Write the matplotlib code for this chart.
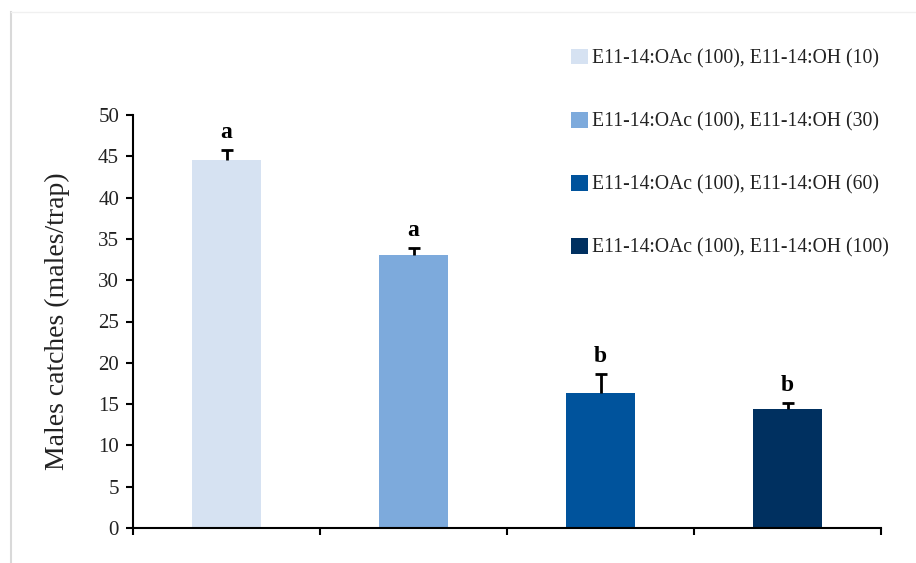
import numpy as np
import matplotlib.pyplot as plt
from matplotlib.patches import Patch
from matplotlib.lines import Line2D

labels = ['E11-14:OAc (100), E11-14:OH (10)',
          'E11-14:OAc (100), E11-14:OH (30)',
          'E11-14:OAc (100), E11-14:OH (60)',
          'E11-14:OAc (100), E11-14:OH (100)']
means = [44.6, 33.1, 16.3, 14.4]
errors = [1.2, 0.8, 2.3, 0.7]
letters = ['a', 'a', 'b', 'b']
colors = ['#D6E2F2', '#7DAADC', '#00539C', '#003060']

plt.rcParams['font.family'] = ['Liberation Serif', 'DejaVu Serif']

fig = plt.figure(figsize=(9.16, 5.63), dpi=100)
ax = fig.add_axes([133/916, 35/563, 748/916, 413/563])

# faint chart-area border on the left and top
fig.add_artist(Line2D([11/916, 11/916], [0, 1-12/563], color='#d9d9d9', lw=1.5))
fig.add_artist(Line2D([11/916, 1], [1-12/563, 1-12/563], color='#f0f0f0', lw=1))

x = np.arange(len(means)) + 0.5
ax.bar(x, means, width=0.365, color=colors, zorder=2)
eb = ax.errorbar(x, means, yerr=[np.zeros(len(errors)), errors], fmt='none',
                 ecolor='black', elinewidth=2, capsize=4, capthick=2, zorder=3)
# only the upper cap
eb[1][0].set_visible(False)

for xi, m, e, l in zip(x, means, errors, letters):
    ax.annotate(l, xy=(xi, m + e), xytext=(0, 5), textcoords='offset points',
                ha='center', va='bottom', fontsize=17, fontweight='bold')

ax.set_xlim(0, 4)
ax.set_ylim(0, 50)
ax.set_yticks(range(0, 51, 5))
ax.set_xticks(range(0, 5))
ax.set_xticklabels([])
ax.tick_params(axis='y', direction='out', length=5, width=1.5, labelsize=15, pad=5,
               labelcolor='#222222')
ax.tick_params(axis='x', direction='out', length=5, width=1.5)
for s in ['top', 'right']:
    ax.spines[s].set_visible(False)
for s in ['left', 'bottom']:
    ax.spines[s].set_linewidth(1.5)
ax.set_ylabel('Males catches (males/trap)', fontsize=20, labelpad=20, color='#222222')

handles = [Patch(facecolor=c, edgecolor='none') for c in colors]
fig.legend(handles, labels, loc='upper left', bbox_to_anchor=(553/916, 1-31/563),
           frameon=False, fontsize=14.2, handlelength=0.85, handleheight=0.85,
           handletextpad=0.25, labelspacing=2.2, labelcolor='#222222')

fig.savefig('out.png', dpi=100)
